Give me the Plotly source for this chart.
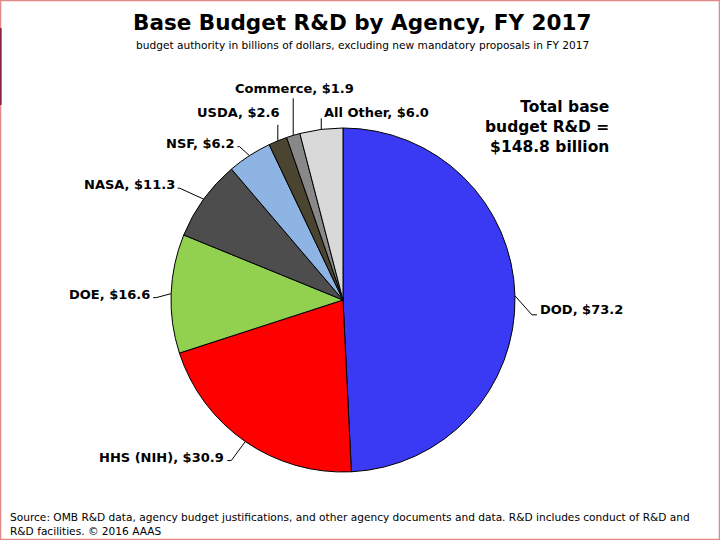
import math
import plotly.graph_objects as go

agencies = ["DOD", "HHS (NIH)", "DOE", "NASA", "NSF", "USDA", "Commerce", "All Other"]
values = [73.2, 30.9, 16.6, 11.3, 6.2, 2.6, 1.9, 6.0]
colors = ["#3A3AF4", "#FF0000", "#92D050", "#4D4D4D", "#8DB4E2", "#4A4430", "#888888", "#D9D9D9"]
total_label = "<b>Total base<br>budget R&D =<br>$148.8 billion</b>"

W, H = 720, 540
CX, CY, R = 343, 300, 172

# leader-line geometry per label (pixel offsets from the slice edge point)
leaders = {
    "DOD":       dict(elbow=(17, 19), end=(22, 19), xa="left",   dx=1,  dy=-5),
    "HHS (NIH)": dict(elbow=(-14, 19), end=(-18, 19), xa="right", dx=-1, dy=-3),
    "DOE":       dict(elbow=(-15, 4), end=(-18, 4), xa="right",   dx=-1, dy=-3),
    "NASA":      dict(elbow=(-24, -11), end=(-26, -11), xa="right", dx=-1, dy=-4),
    "NSF":       dict(elbow=(-10, -9), end=(-12, -9), xa="right", dx=-1, dy=-3),
    "USDA":      dict(elbow=(0, -16), end=(0, -16), xa="right",   dx=4,  dy=-12),
    "Commerce":  dict(elbow=(0, -37), end=(0, -37), xa="center",  dx=1,  dy=-10),
    "All Other": dict(elbow=(0, -11), end=(0, -11), xa="left",    dx=1,  dy=-6),
}

fig = go.Figure()
fig.add_trace(go.Pie(
    labels=agencies, values=values, sort=False, direction="clockwise", rotation=0,
    marker=dict(colors=colors, line=dict(color="black", width=1)),
    textinfo="none", showlegend=False,
    domain=dict(x=[(CX - R) / W, (CX + R) / W], y=[(H - CY - R) / H, (H - CY + R) / H]),
))

def px2paper(x, y):
    return x / W, 1 - y / H

font_lbl = dict(family="DejaVu Sans", size=13, color="black")
total = sum(values)
cum = 0.0
shapes = []
annotations = []
for name, v in zip(agencies, values):
    mid = (cum + v / 2) / total * 2 * math.pi
    cum += v
    ex = CX + R * math.sin(mid)
    ey = CY - R * math.cos(mid)
    L = leaders[name]
    p0 = (ex, ey)
    p1 = (ex + L["elbow"][0], ey + L["elbow"][1])
    p2 = (ex + L["end"][0], ey + L["end"][1])
    for a, b in [(p0, p1), (p1, p2)]:
        if a != b:
            x0, y0 = px2paper(*a)
            x1, y1 = px2paper(*b)
            shapes.append(dict(type="line", xref="paper", yref="paper", x0=x0, y0=y0, x1=x1, y1=y1,
                               line=dict(color="black", width=1)))
    tx, ty = px2paper(p2[0] + L["dx"], p2[1] + L["dy"])
    annotations.append(dict(text=f"<b>{name}, ${v:.1f}</b>", x=tx, y=ty, xref="paper", yref="paper",
                            xanchor=L["xa"], yanchor="middle", showarrow=False, font=font_lbl))

annotations += [
    dict(text="<b>Base Budget R&D by Agency, FY 2017</b>", x=362 / W, y=1 - 22 / H, xref="paper", yref="paper",
         xanchor="center", yanchor="middle", showarrow=False,
         font=dict(family="DejaVu Sans", size=21.5, color="black")),
    dict(text="budget authority in billions of dollars, excluding new mandatory proposals in FY 2017",
         x=362 / W, y=1 - 45 / H, xref="paper", yref="paper", xanchor="center", yanchor="middle",
         showarrow=False, font=dict(family="DejaVu Sans", size=10.6, color="black")),
    dict(text=total_label, x=611 / W, y=1 - 127 / H, xref="paper", yref="paper", xanchor="right",
         yanchor="middle", align="right", showarrow=False,
         font=dict(family="DejaVu Sans", size=15.5, color="black")),
    dict(text="Source: OMB R&D data, agency budget justifications, and other agency documents and data. R&D includes conduct of R&D and<br>R&D facilities. © 2016 AAAS",
         x=8 / W, y=1 - 524 / H, xref="paper", yref="paper", xanchor="left", yanchor="middle",
         align="left", showarrow=False, font=dict(family="DejaVu Sans", size=10.6, color="black")),
]

shapes.append(dict(type="rect", xref="paper", yref="paper", x0=0.5 / W, y0=0.5 / H, x1=1 - 0.5 / W, y1=1 - 0.5 / H,
                   line=dict(color="#E08888", width=1.5)))
shapes.append(dict(type="line", xref="paper", yref="paper", x0=0.6 / W, y0=1 - 28 / H, x1=0.6 / W, y1=1 - 105 / H,
                   line=dict(color="#8B2040", width=2)))

fig.update_layout(width=W, height=H, margin=dict(l=0, r=0, t=0, b=0),
                  paper_bgcolor="white", plot_bgcolor="white",
                  shapes=shapes, annotations=annotations)
fig.write_html("out.html", config={"displayModeBar": False},
               post_script="document.body.style.margin='0px';document.body.style.overflow='hidden';")
